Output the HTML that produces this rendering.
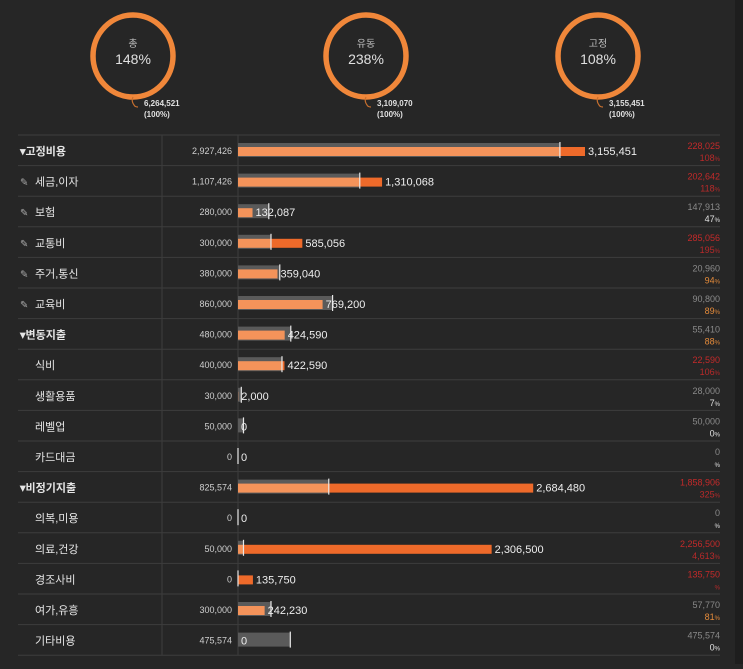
<!DOCTYPE html>
<html><head><meta charset="utf-8">
<style>
html,body{margin:0;padding:0;background:#262626;}
body{width:743px;height:664px;overflow:hidden;font-family:"Liberation Sans","Noto Sans CJK KR",sans-serif;}
svg text{font-family:"Liberation Sans","Noto Sans CJK KR",sans-serif;}
</style></head>
<body>
<svg id="chart" width="743" height="664" xmlns="http://www.w3.org/2000/svg">
<rect x="0" y="0" width="743" height="664" fill="#262626"/>
<rect x="735" y="0" width="8" height="664" fill="#1e1e1e"/>
</svg>
<script>
const categories=["고정비용","세금,이자","보험","교통비","주거,통신","교육비","변동지출","식비","생활용품","레벨업","카드대금","비정기지출","의복,미용","의료,건강","경조사비","여가,유흥","기타비용"];
const groupFlags=[1,0,0,0,0,0,1,0,0,0,0,1,0,0,0,0,0];
const pinFlags=[0,1,1,1,1,1,0,0,0,0,0,0,0,0,0,0,0];
const budgets=[2927426,1107426,280000,300000,380000,860000,480000,400000,30000,50000,0,825574,0,50000,0,300000,475574];
const actuals=[3155451,1310068,132087,585056,359040,769200,424590,422590,2000,0,0,2684480,0,2306500,135750,242230,0];
const diffLabels=["228,025","202,642","147,913","285,056","20,960","90,800","55,410","22,590","28,000","50,000","0","1,858,906","0","2,256,500","135,750","57,770","475,574"];
const pctLabels=["108","118","47","195","94","89","88","106","7","0","","325","","4,613","","81","0"];
const donutTitles=["총","유동","고정"];
const donutPcts=["148%","238%","108%"];
const donutTotals=["6,264,521","3,109,070","3,155,451"];

const svg=document.getElementById('chart');
const NS="http://www.w3.org/2000/svg";
function mk(tag,attrs,parent){const e=document.createElementNS(NS,tag);for(const k in attrs)e.setAttribute(k,attrs[k]);(parent||svg).appendChild(e);return e;}
function fmt(n){return n.toLocaleString('en-US');}
const x0=238, scale=347/3155451;
function xs(v){return x0+v*scale;}
const rowTop=135, rowH=30.6;
function ys(i){return rowTop+i*rowH;}

const dcx=[133,366,598];
donutTitles.forEach((t,i)=>{
  const g=mk('g',{});
  
  
  mk('ellipse',{cx:dcx[i],cy:56,rx:40,ry:41,fill:'none',stroke:'#f0873a','stroke-width':5.5},g);
  mk('path',{d:`M${dcx[i]} 97 q-2 4 1 8 q1 2 4 2`,fill:'none',stroke:'#c8702f','stroke-width':1.2},g);
  const a=mk('text',{x:dcx[i],y:47,'text-anchor':'middle','font-size':10,fill:'#bdbdbd'},g);a.textContent=t;
  const b=mk('text',{x:dcx[i],y:64,'text-anchor':'middle','font-size':14,fill:'#e0e0e0'},g);b.textContent=donutPcts[i];
  const c=mk('text',{x:dcx[i]+11,y:106,'font-size':8,'font-weight':'bold',fill:'#e0e0e0'},g);c.textContent=donutTotals[i];
  const d=mk('text',{x:dcx[i]+11,y:117,'font-size':8,'font-weight':'bold',fill:'#e0e0e0'},g);d.textContent="(100%)";
});

mk('line',{x1:18,y1:rowTop,x2:720,y2:rowTop,stroke:'#3d3d3d','stroke-width':1});
mk('line',{x1:162,y1:rowTop,x2:162,y2:ys(categories.length),stroke:'#3d3d3d','stroke-width':1});
mk('line',{x1:238,y1:rowTop,x2:238,y2:ys(categories.length),stroke:'#3d3d3d','stroke-width':1});

categories.forEach((cat,i)=>{
  const t=ys(i);
  const g=mk('g',{});
  
  
  mk('line',{x1:18,y1:t+rowH,x2:720,y2:t+rowH,stroke:'#3d3d3d','stroke-width':1},g);
  let lx=35, label=cat;
  if(groupFlags[i]){lx=20;label='▾'+cat;}
  if(pinFlags[i]){const p=mk('text',{x:20,y:t+20,'font-size':10,fill:'#aaa'},g);p.textContent='✎';}
  const lt=mk('text',{x:lx,y:t+20,'font-size':11,fill:'#e6e6e6','font-weight':groupFlags[i]?'bold':'normal'},g);lt.textContent=label;
  const bt=mk('text',{x:232,y:t+19,'text-anchor':'end','font-size':9,fill:'#cfcfcf'},g);bt.textContent=fmt(budgets[i]);
  const bw=xs(budgets[i])-x0;
  if(bw>0){const r=mk('rect',{x:x0,y:t+8,width:bw,height:14,fill:'#5a5a5a'},g);}
  const within=Math.min(actuals[i],budgets[i]);
  if(actuals[i]>0){
    const r1=mk('rect',{x:x0,y:t+12,width:xs(within)-x0,height:9,fill:'#f4935a'},g);
    
    if(actuals[i]>budgets[i]){const r2=mk('rect',{x:xs(budgets[i]),y:t+12,width:xs(actuals[i])-xs(budgets[i]),height:9,fill:'#ee6a2a'},g);
      }
  }
  mk('line',{x1:xs(budgets[i]),y1:t+7,x2:xs(budgets[i]),y2:t+23,stroke:'#e8e8e8','stroke-width':1.2},g);
  const vt=mk('text',{x:xs(actuals[i])+3,y:t+20,'font-size':11,fill:'#eeeeee'},g);vt.textContent=fmt(actuals[i]);
  const over=actuals[i]>budgets[i];
  const dt=mk('text',{x:720,y:t+14,'text-anchor':'end','font-size':9,fill:over?'#c42a2a':'#8a8a8a'},g);dt.textContent=diffLabels[i];
  const pnum=parseFloat(pctLabels[i].replace(',',''));
  let pc='#e0e0e0';
  if(over)pc='#b82a2a';else if(pnum>=80)pc='#e38a3a';
  const pt=mk('text',{x:720,y:t+26,'text-anchor':'end','font-size':9,fill:pc},g);
  const ps=mk('tspan',{},pt);ps.textContent=pctLabels[i];
  const ps2=mk('tspan',{'font-size':6},pt);ps2.textContent='%';
});
</script>
</body></html>
